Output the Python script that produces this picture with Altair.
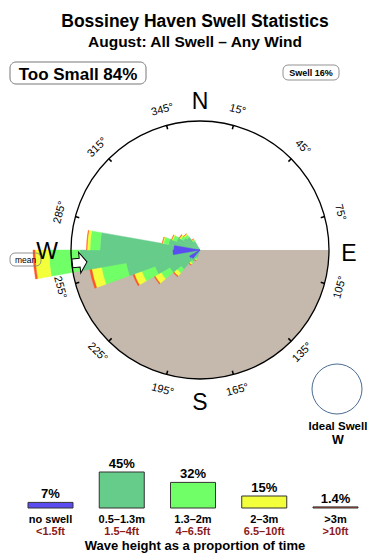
import math
import altair as alt
import pandas as pd

FONT = "Liberation Sans"

# ---------------- data ----------------
bin_start = [200, 210, 220, 230, 240, 250, 260, 270, 280, 290, 300, 310, 320]
bin_width = 10
# % of time per direction bin and wave-height band
band_noswell = [0, 0, 0.18, 0.22, 0, 0, 1.10, 1.02, 0, 0, 0, 0, 0]
band_small = [0.10, 0.25, 0.94, 1.84, 3.46, 8.45, 21.63, 15.02, 1.54, 0.94, 0.54, 0.43, 0.15]
band_mid = [0.05, 0.11, 0.41, 1.20, 2.31, 6.57, 12.62, 3.16, 0.52, 0.32, 0.19, 0.17, 0.07]
band_big = [0.03, 0.07, 0.39, 1.02, 1.59, 3.16, 6.65, 1.00, 0.11, 0.09, 0.10, 0.06, 0.02]
band_huge = [0.02, 0.03, 0.10, 0.16, 0.32, 0.66, 1.00, 0.17, 0.04, 0.03, 0.04, 0.02, 0.01]

legend_cats = ["no swell", "0.5–1.3m", "1.3–2m", "2–3m", ">3m"]
legend_feet = ["<1.5ft", "1.5–4ft", "4–6.5ft", "6.5–10ft", ">10ft"]
legend_pct = [7, 45, 32, 15, 1.4]
legend_pct_label = ["7%", "45%", "32%", "15%", "1.4%"]
band_colors = ["#5b4cf2", "#66cc8a", "#70ff66", "#f2ff3a", "#ff5526"]

tick_bearings = [15, 45, 75, 105, 135, 165, 195, 225, 255, 285, 315, 345]
land_from, land_to = 90, 270
mean_dir = 264
too_small_pct = 84
swell_pct = 16
ideal_dir = "W"

title = "Bossiney Haven Swell Statistics"
subtitle = "August: All Swell – Any Wind"
caption = "Wave height as a proportion of time"

# ---------------- tables ----------------
rows = []
for i, b in enumerate(bin_start):
    cum = 0.0
    for cat, vals in zip(legend_cats[1:], [band_small, band_mid, band_big, band_huge]):
        v = vals[i]
        rows.append({"b0": b, "b1": b + bin_width, "r0": cum, "r1": cum + v, "cat": cat})
        cum += v
rose_df = pd.DataFrame(rows)
noswell_df = pd.DataFrame({"b0": bin_start, "b1": [b + bin_width for b in bin_start],
                           "r0": 0.0, "r1": band_noswell, "cat": "no swell"})
noswell_df = noswell_df[noswell_df["r1"] > 0]

ticks_df = pd.DataFrame({"b": tick_bearings})
ticks_df["lab"] = [f"{b}°" for b in tick_bearings]
ticks_df["rot"] = [b if (b > 270 or b < 90) else (b + 180) % 360 for b in tick_bearings]

land_df = pd.DataFrame({"t0": [land_from], "t1": [land_to]})
legend_df = pd.DataFrame({"i": list(range(5)), "cat": legend_cats, "feet": legend_feet,
                          "pct": legend_pct, "plabel": legend_pct_label})
one = pd.DataFrame({"a": [0]})

# ---------------- scales ----------------
CX, CY, R = 200, 250, 129
theta_scale = alt.Scale(domain=[0, 360], range=[0, 2 * math.pi])
rad_scale = alt.Scale(type="sqrt", domain=[0, 25], range=[0, R])
color_scale = alt.Scale(domain=legend_cats, range=band_colors)
xs = alt.Scale(domain=[0, 4], range=[50.5, 335.5])
ys = alt.Scale(domain=[0, 50], range=[508, 468])

cx = alt.value(CX)
cy = alt.value(CY)

land = alt.Chart(land_df).mark_arc(color="#c4b9ac").encode(
    x=cx, y=cy,
    theta=alt.Theta("t0:Q", scale=theta_scale, stack=False),
    theta2="t1:Q",
    radius=alt.value(R),
)

def rose_layer(df):
    return alt.Chart(df).mark_arc(strokeWidth=0.4).encode(
        x=cx, y=cy,
        theta=alt.Theta("b0:Q", scale=theta_scale, stack=False),
        theta2="b1:Q",
        radius=alt.Radius("r1:Q", scale=rad_scale, stack=False),
        radius2="r0:Q",
        color=alt.Color("cat:N", scale=color_scale, legend=None),
        stroke=alt.Stroke("cat:N", scale=color_scale, legend=None),
    )

rose = rose_layer(rose_df)
noswell = rose_layer(noswell_df)

ticks = alt.Chart(ticks_df).mark_arc(color="black").transform_calculate(
    t0="datum.b - 0.35", t1="datum.b + 0.35"
).encode(
    x=cx, y=cy,
    theta=alt.Theta("t0:Q", scale=theta_scale, stack=False),
    theta2="t1:Q",
    radius=alt.value(R),
    radius2=alt.value(R - 4),
)

outline = alt.Chart(one).mark_arc(fillOpacity=0, stroke="black", strokeWidth=1.3).encode(
    x=cx, y=cy, theta=alt.value(0), theta2=alt.value(2 * math.pi), radius=alt.value(R)
)

tick_labels = alt.Chart(ticks_df).mark_text(font=FONT, fontSize=11, color="black",
                                             align="center", baseline="middle").encode(
    x=cx, y=cy,
    theta=alt.Theta("b:Q", scale=theta_scale, stack=False),
    radius=alt.value(145),
    text="lab:N",
    angle=alt.Angle("rot:Q", scale=None),
)

def txt(s, x, y, size, weight="normal", color="black", align="center", baseline="alphabetic"):
    return alt.Chart(one).mark_text(text=s, font=FONT, fontSize=size, fontWeight=weight,
                                    color=color, align=align, baseline=baseline).encode(
        x=alt.value(x), y=alt.value(y))

def box(x1, x2, y1, y2, rad, color="#666", sw=1):
    return alt.Chart(one).mark_rect(fillOpacity=0, stroke=color, strokeWidth=sw,
                                    cornerRadius=rad).encode(
        x=alt.value(x1), x2=alt.value(x2), y=alt.value(y1), y2=alt.value(y2))

card = [
    txt("N", 200, 109, 23),
    txt("E", 349, 261, 23),
    txt("S", 200, 410, 23),
    txt("W", 47, 259, 23),
]

# mean direction arrow (points toward the centre)
ar = 121
ax = CX + ar * math.sin(math.radians(mean_dir))
ay = CY - ar * math.cos(math.radians(mean_dir))
arrow_path = "M -0.7 -0.42 L 0 -0.42 L 0 -1 L 0.7 0 L 0 1 L 0 0.42 L -0.7 0.42 Z"
arrow = alt.Chart(one).mark_point(shape=arrow_path, size=441, filled=True, fill="white",
                                  stroke="black", strokeWidth=1, opacity=1,
                                  angle=(mean_dir + 180 - 90) % 360).encode(
    x=alt.value(ax), y=alt.value(ay))
mean_box = box(10, 41, 253, 266, 5, "#777", 0.8)
mean_txt = txt("mean", 25.5, 262.5, 8.5)

header = [
    txt(title, 195, 27, 17.5, "bold"),
    txt(subtitle, 195, 47, 15.5, "bold"),
    box(10, 146, 62, 84, 6, "#777", 1),
    txt(f"Too Small {too_small_pct}%", 78, 79.5, 17, "bold"),
    box(283, 339, 65, 80, 5, "#777", 0.8),
    txt(f"Swell {swell_pct}%", 311, 76, 9, "bold"),
]

ideal = [
    alt.Chart(one).mark_arc(fillOpacity=0, stroke="#4a6b92", strokeWidth=1).encode(
        x=alt.value(337), y=alt.value(389), theta=alt.value(0),
        theta2=alt.value(2 * math.pi), radius=alt.value(25)),
    txt("Ideal Swell", 338, 430, 11.5, "bold"),
    txt(ideal_dir, 338, 444, 12.5, "bold"),
]

leg_bars = alt.Chart(legend_df).mark_rect(stroke="#333", strokeWidth=1).transform_calculate(
    xl="datum.i - 0.3158", xr="datum.i + 0.3158", zero="0"
).encode(
    x=alt.X("xl:Q", scale=xs, axis=None), x2="xr:Q",
    y=alt.Y("zero:Q", scale=ys, axis=None), y2="pct:Q",
    color=alt.Color("cat:N", scale=color_scale, legend=None),
)
leg_pct = alt.Chart(legend_df).mark_text(font=FONT, fontSize=13, fontWeight="bold",
                                         baseline="alphabetic", dy=-4, color="black").encode(
    x=alt.X("i:Q", scale=xs, axis=None), y=alt.Y("pct:Q", scale=ys, axis=None), text="plabel:N")
leg_cat = alt.Chart(legend_df).mark_text(font=FONT, fontSize=11, fontWeight="bold",
                                         baseline="alphabetic", color="black").encode(
    x=alt.X("i:Q", scale=xs, axis=None), y=alt.value(522.5), text="cat:N")
leg_feet = alt.Chart(legend_df).mark_text(font=FONT, fontSize=11, fontWeight="bold",
                                          baseline="alphabetic", color="#8b1a1a").encode(
    x=alt.X("i:Q", scale=xs, axis=None), y=alt.value(534.5), text="feet:N")
cap = txt(caption, 195, 549.5, 13, "bold")

chart = alt.layer(
    land, rose, noswell, ticks, outline, tick_labels, *card,
    arrow, mean_box, mean_txt, *header, *ideal,
    leg_bars, leg_pct, leg_cat, leg_feet, cap,
).properties(
    width=390, height=560, autosize="none", padding=0, background="white"
).configure_view(stroke=None)

chart.save("out.html", embed_options={"renderer": "svg", "actions": False})
